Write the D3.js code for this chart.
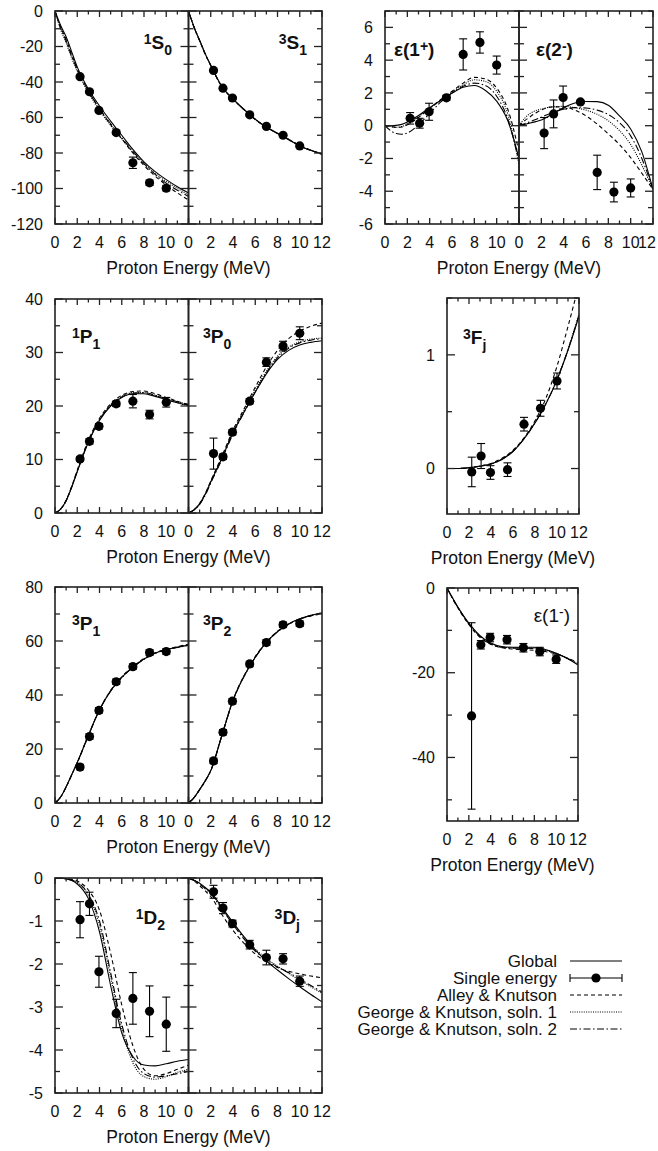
<!DOCTYPE html>
<meta charset="utf-8">
<html>
<head>
<script src="https://d3js.org/d3.v7.min.js"></script>
</head>
<style>
  body { margin: 0; background: #fff; }
  text { font-family: "Liberation Sans", Arial, Helvetica, sans-serif; fill: #111; }
</style>
<body>
<div id="chart"></div>
<script>

// proton energies of the single-energy analyses (MeV)
var energies = [2.25, 3.1, 3.95, 5.5, 7.0, 8.5, 10.0];
var curveE = [0, 0.5, 1, 1.5, 2, 3, 4, 5, 6, 7, 8, 9, 10, 11, 12];

var legendNames = ["Global", "Single energy", "Alley & Knutson", "George & Knutson, soln. 1", "George & Knutson, soln. 2"];

// --- single energy phase shifts (deg) and errors ---
var pts1S0 = [-37, -45.5, -56, -68.5, -85.5, -96.8, -99.8];
var err1S0 = [0.8, 0.8, 0.8, 0.8, 3.2, 1.5, 1.5];
var pts3S1 = [-33.5, -43.5, -49, -58.5, -65, -70, -76];
var err3S1 = [0.6, 0.6, 0.6, 0.6, 0.6, 0.6, 0.6];
var ptsE1p = [0.45, 0.15, 0.85, 1.7, 4.35, 5.08, 3.7];
var errE1p = [0.35, 0.3, 0.52, 0.15, 0.95, 0.65, 0.55];
var ptsE2m = [-0.45, 0.72, 1.72, 1.45, -2.85, -4.05, -3.8];
var errE2m = [0.95, 0.85, 0.7, 0.1, 1.05, 0.6, 0.55];
var pts1P1 = [10.1, 13.4, 16.2, 20.4, 20.9, 18.4, 20.7];
var err1P1 = [0.4, 0.5, 0.5, 0.5, 1.25, 0.8, 0.9];
var pts3P0 = [11.1, 10.5, 15.1, 20.9, 28.2, 31.2, 33.6];
var err3P0 = [2.9, 0.5, 0.5, 0.5, 0.8, 0.9, 1.2];
var pts3Fj = [-0.03, 0.11, -0.035, -0.01, 0.39, 0.53, 0.77];
var err3Fj = [0.13, 0.11, 0.06, 0.06, 0.06, 0.07, 0.07];
var pts3P1 = [13.3, 24.6, 34.3, 44.9, 50.5, 55.7, 56.1];
var err3P1 = [1, 1, 1, 1, 1, 1, 1];
var pts3P2 = [15.6, 26.2, 37.7, 51.5, 59.4, 66.0, 66.4];
var err3P2 = [1, 1, 1, 1, 1, 1, 1];
var ptsE1m = [-30.2, -13.4, -11.7, -12.2, -14.1, -15.0, -16.8];
var errE1m = [22, 1, 1, 1, 1, 1, 1];
var pts1D2 = [-0.97, -0.6, -2.18, -3.15, -2.8, -3.1, -3.4];
var err1D2 = [0.42, 0.27, 0.36, 0.33, 0.6, 0.59, 0.63];
var pts3Dj = [-0.32, -0.7, -1.06, -1.55, -1.85, -1.88, -2.4];
var err3Dj = [0.15, 0.13, 0.08, 0.1, 0.17, 0.12, 0.12];

// --- model curves: global, Alley & Knutson, G&K soln 1, G&K soln 2 ---
var glob1S0 = [0, -8, -14.5, -23, -31.5, -44, -53.5, -62, -70, -78, -85, -90.5, -95, -99, -102.5];
var alley1S0 = [0, -9, -16, -24.5, -32.5, -45, -55, -64, -72, -80, -87, -93, -98, -102.5, -106.5];
var gk1_1S0 = [0, -10.5, -18, -26.5, -34, -46, -56, -64.5, -72, -79.5, -86, -91.5, -96, -100, -103.5];
var gk2_1S0 = [0, -9.5, -17, -25.5, -33, -45, -55, -63.5, -71.5, -79, -86, -92, -97, -101, -104.5];

var glob3S1 = [0, -9, -16.5, -24, -30.5, -42.5, -49.5, -55.5, -61, -65.5, -69, -72.5, -76, -78.5, -80.5];
var alley3S1 = [0, -9.3, -16.8, -24.3, -30.8, -42.7, -49.7, -55.7, -61.1, -65.5, -68.9, -72.3, -75.8, -78.5, -80.8];
var gk1_3S1 = [0, -9.1, -16.6, -24.1, -30.6, -42.6, -49.6, -55.6, -61, -65.5, -68.9, -72.4, -75.9, -78.6, -80.6];
var gk2_3S1 = [0, -9.2, -16.7, -24.2, -30.7, -42.6, -49.6, -55.6, -61, -65.4, -68.8, -72.3, -75.8, -78.4, -80.4];

var globE1p = [0, 0, 0.02, 0.08, 0.22, 0.62, 1.1, 1.55, 1.98, 2.35, 2.45, 2.15, 1.5, 0.3, -2.0];
var alleyE1p = [0, -0.05, -0.1, -0.08, 0.05, 0.5, 1.05, 1.6, 2.1, 2.6, 2.95, 2.85, 2.3, 1.0, -1.6];
var gk1_E1p = [0, -0.05, -0.1, -0.05, 0.1, 0.55, 1.05, 1.55, 2.05, 2.5, 2.8, 2.7, 2.1, 0.7, -2.4];
var gk2_E1p = [0, -0.3, -0.48, -0.52, -0.45, 0.05, 0.75, 1.45, 2.0, 2.4, 2.6, 2.45, 1.8, 0.4, -2.2];

var globE2m = [0, 0.08, 0.16, 0.25, 0.35, 0.72, 1.1, 1.38, 1.48, 1.47, 1.25, 0.6, -0.2, -1.6, -3.9];
var alleyE2m = [0, 0.3, 0.55, 0.78, 0.95, 1.15, 1.15, 0.95, 0.6, 0.1, -0.5, -1.15, -1.95, -2.9, -3.9];
var gk1_E2m = [0, 0.45, 0.75, 0.92, 1.02, 1.15, 1.18, 1.1, 0.95, 0.7, 0.3, -0.3, -1.15, -2.4, -3.9];
var gk2_E2m = [0, 0.12, 0.25, 0.38, 0.52, 0.8, 1.0, 1.1, 1.08, 0.95, 0.68, 0.18, -0.62, -2.0, -3.9];

var glob1P1 = [0, 0.7, 2.3, 4.8, 7.7, 13.2, 17.3, 20.0, 21.6, 22.3, 22.3, 21.8, 21.2, 20.6, 20.1];
var alley1P1 = [0, 0.75, 2.4, 5.0, 8.0, 13.6, 17.7, 20.4, 22.0, 22.7, 22.8, 22.3, 21.6, 20.9, 20.2];
var gk1_1P1 = [0, 0.7, 2.35, 4.9, 7.85, 13.4, 17.5, 20.2, 21.8, 22.5, 22.5, 22.0, 21.3, 20.6, 20.0];
var gk2_1P1 = [0, 0.7, 2.3, 4.85, 7.8, 13.3, 17.4, 20.1, 21.7, 22.4, 22.5, 22.0, 21.4, 20.8, 20.3];

var glob3P0 = [0, 0.6, 1.7, 3.5, 5.8, 10.2, 15.0, 18.9, 22.6, 26.0, 28.7, 30.4, 31.4, 31.9, 32.2];
var alley3P0 = [0, 0.6, 1.8, 3.6, 6.0, 10.6, 15.5, 19.5, 23.5, 27.3, 30.4, 32.6, 34.0, 34.9, 35.5];
var gk1_3P0 = [0, 0.6, 1.7, 3.5, 5.9, 10.4, 15.2, 19.2, 23.0, 26.5, 29.3, 31.0, 32.0, 32.5, 32.7];
var gk2_3P0 = [0, 0.55, 1.6, 3.3, 5.6, 10.0, 14.8, 18.8, 22.6, 26.2, 29.0, 30.8, 31.8, 32.3, 32.6];

var glob3Fj = [0, 0, 0, 0.003, 0.007, 0.02, 0.04, 0.08, 0.15, 0.26, 0.4, 0.57, 0.78, 1.04, 1.34];
var alley3Fj = [0, 0, 0, 0.003, 0.008, 0.022, 0.045, 0.09, 0.16, 0.27, 0.42, 0.62, 0.9, 1.25, 1.62];
var gk1_3Fj = [0, 0, 0, 0.003, 0.007, 0.021, 0.042, 0.085, 0.155, 0.265, 0.405, 0.575, 0.785, 1.05, 1.36];
var gk2_3Fj = [0, 0, 0, 0.003, 0.007, 0.02, 0.04, 0.082, 0.152, 0.262, 0.402, 0.572, 0.782, 1.045, 1.35];

var glob3P1 = [0, 2.2, 6, 10.5, 15, 25, 34.5, 41.5, 46.5, 50.3, 53.3, 55.5, 56.8, 57.7, 58.5];
var alley3P1 = [0, 2.2, 6, 10.4, 14.9, 25, 34.6, 41.7, 46.7, 50.5, 53.5, 55.6, 56.9, 57.9, 58.8];
var gk1_3P1 = [0, 2.2, 6, 10.5, 15, 25.1, 34.6, 41.6, 46.6, 50.4, 53.4, 55.5, 56.8, 57.8, 58.6];
var gk2_3P1 = [0, 2.1, 5.9, 10.4, 14.9, 24.9, 34.4, 41.4, 46.4, 50.2, 53.2, 55.4, 56.7, 57.6, 58.4];

var glob3P2 = [0, 2, 5, 8.2, 12, 25, 38, 47, 54, 59.5, 63.5, 66.3, 68.2, 69.5, 70.5];
var alley3P2 = [0, 2, 5, 8.2, 12, 25.2, 38.2, 47.2, 54.2, 59.6, 63.6, 66.3, 68.1, 69.3, 70.1];
var gk1_3P2 = [0, 2, 5, 8.2, 12, 25, 38, 47, 54, 59.5, 63.5, 66.3, 68.2, 69.5, 70.4];
var gk2_3P2 = [0, 1.9, 4.9, 8.1, 11.9, 24.9, 37.9, 46.9, 53.9, 59.4, 63.4, 66.2, 68.1, 69.4, 70.3];

var globE1m = [0, -2.3, -4.5, -6.5, -8.3, -11.2, -13.0, -13.8, -14.0, -14.0, -14.0, -14.5, -15.4, -16.6, -18.2];
var alleyE1m = [0, -2.5, -4.7, -6.8, -8.6, -11.6, -13.3, -14.1, -14.4, -14.6, -14.7, -15.0, -15.6, -16.5, -17.6];
var gk1_E1m = [0, -2.4, -4.6, -6.6, -8.4, -11.3, -13.1, -13.9, -14.1, -14.1, -14.2, -14.6, -15.4, -16.6, -18.0];
var gk2_E1m = [0, -2.4, -4.6, -6.6, -8.5, -11.4, -13.2, -14.0, -14.2, -14.2, -14.3, -14.7, -15.5, -16.6, -17.9];

var glob1D2 = [0, 0, -0.02, -0.06, -0.14, -0.48, -1.25, -2.5, -3.6, -4.15, -4.35, -4.37, -4.32, -4.26, -4.22];
var alley1D2 = [0, 0, -0.01, -0.03, -0.07, -0.28, -0.75, -1.75, -2.95, -3.9, -4.45, -4.6, -4.55, -4.45, -4.35];
var gk1_1D2 = [0, 0, -0.02, -0.05, -0.11, -0.4, -1.1, -2.3, -3.5, -4.3, -4.62, -4.68, -4.62, -4.52, -4.45];
var gk2_1D2 = [0, 0, -0.02, -0.05, -0.1, -0.38, -1.0, -2.2, -3.4, -4.2, -4.55, -4.63, -4.6, -4.55, -4.5];

var glob3Dj = [0, -0.05, -0.12, -0.22, -0.33, -0.68, -1.03, -1.37, -1.67, -1.93, -2.14, -2.34, -2.53, -2.71, -2.88];
var alley3Dj = [0, -0.07, -0.18, -0.3, -0.43, -0.85, -1.22, -1.52, -1.77, -1.95, -2.08, -2.17, -2.23, -2.28, -2.32];
var gk1_3Dj = [0, -0.05, -0.13, -0.23, -0.35, -0.7, -1.05, -1.38, -1.65, -1.87, -2.05, -2.22, -2.38, -2.53, -2.68];
var gk2_3Dj = [0, -0.06, -0.14, -0.25, -0.37, -0.72, -1.08, -1.42, -1.7, -1.9, -2.07, -2.2, -2.35, -2.5, -2.65];

// line styles: global, Alley & Knutson, G&K 1, G&K 2
var dashes = [null, "4,3", "1,1.3", "7,2.5,1.5,2.5"];

// panel layout (pixel boxes) built around the arrays above
// groupLeft marks the panel that carries the "Proton Energy" title for its group
var panels = [
  {x: [55, 188.5], y: [11, 224], dom: [-120, 0], major: 20, minor: 10, yLabels: true, xLast: 10,
   pts: pts1S0, err: err1S0, curves: [glob1S0, alley1S0, gk1_1S0, gk2_1S0],
   label: [["1", "sup"], ["S"], ["0", "sub"]], lx: 172, ly: 49, anchor: "end", bold: true},
  {x: [188.5, 322], y: [11, 224], dom: [-120, 0], major: 20, minor: 10, yLabels: false, xLast: 12,
   pts: pts3S1, err: err3S1, curves: [glob3S1, alley3S1, gk1_3S1, gk2_3S1], groupLeft: 55,
   label: [["3", "sup"], ["S"], ["1", "sub"]], lx: 307, ly: 49, anchor: "end", bold: true},
  {x: [385, 519], y: [11, 224], dom: [-6, 7], major: 2, minor: 1, yLabels: true, xLast: 10,
   pts: ptsE1p, err: errE1p, curves: [globE1p, alleyE1p, gk1_E1p, gk2_E1p],
   label: [["ε(1"], ["+", "sup"], [")"]], lx: 394, ly: 56, anchor: "start", bold: true},
  {x: [519, 653], y: [11, 224], dom: [-6, 7], major: 2, minor: 1, yLabels: false, xLast: 12,
   pts: ptsE2m, err: errE2m, curves: [globE2m, alleyE2m, gk1_E2m, gk2_E2m], groupLeft: 385,
   label: [["ε(2"], ["-", "sup"], [")"]], lx: 536, ly: 56, anchor: "start", bold: true},
  {x: [55, 188.5], y: [299, 513], dom: [0, 40], major: 10, minor: 5, yLabels: true, xLast: 10,
   pts: pts1P1, err: err1P1, curves: [glob1P1, alley1P1, gk1_1P1, gk2_1P1],
   label: [["1", "sup"], ["P"], ["1", "sub"]], lx: 72, ly: 343, anchor: "start", bold: true},
  {x: [188.5, 322], y: [299, 513], dom: [0, 40], major: 10, minor: 5, yLabels: false, xLast: 12,
   pts: pts3P0, err: err3P0, curves: [glob3P0, alley3P0, gk1_3P0, gk2_3P0], groupLeft: 55,
   label: [["3", "sup"], ["P"], ["0", "sub"]], lx: 203, ly: 343, anchor: "start", bold: true},
  {x: [447, 579], y: [298, 514], dom: [-0.4, 1.5], major: 1, minor: 0.5, yLabels: true, xLast: 12,
   pts: pts3Fj, err: err3Fj, curves: [glob3Fj, alley3Fj, gk1_3Fj, gk2_3Fj], groupLeft: 447,
   label: [["3", "sup"], ["F"], ["j", "sub"]], lx: 463, ly: 344, anchor: "start", bold: true},
  {x: [55, 188.5], y: [587, 803], dom: [0, 80], major: 20, minor: 10, yLabels: true, xLast: 10,
   pts: pts3P1, err: err3P1, curves: [glob3P1, alley3P1, gk1_3P1, gk2_3P1],
   label: [["3", "sup"], ["P"], ["1", "sub"]], lx: 72, ly: 630, anchor: "start", bold: true},
  {x: [188.5, 322], y: [587, 803], dom: [0, 80], major: 20, minor: 10, yLabels: false, xLast: 12,
   pts: pts3P2, err: err3P2, curves: [glob3P2, alley3P2, gk1_3P2, gk2_3P2], groupLeft: 55,
   label: [["3", "sup"], ["P"], ["2", "sub"]], lx: 203, ly: 630, anchor: "start", bold: true},
  {x: [447, 578], y: [588, 821], dom: [-55, 0], major: 20, minor: 10, yLabels: true, xLast: 12,
   pts: ptsE1m, err: errE1m, curves: [globE1m, alleyE1m, gk1_E1m, gk2_E1m], groupLeft: 447,
   label: [["ε(1"], ["-", "sup"], [")"]], lx: 570, ly: 622, anchor: "end", bold: false},
  {x: [55, 188.5], y: [878, 1093], dom: [-5, 0], major: 1, minor: 0.5, yLabels: true, xLast: 10,
   pts: pts1D2, err: err1D2, curves: [glob1D2, alley1D2, gk1_1D2, gk2_1D2],
   label: [["1", "sup"], ["D"], ["2", "sub"]], lx: 165, ly: 924, anchor: "end", bold: true},
  {x: [188.5, 322], y: [878, 1093], dom: [-5, 0], major: 1, minor: 0.5, yLabels: false, xLast: 12,
   pts: pts3Dj, err: err3Dj, curves: [glob3Dj, alley3Dj, gk1_3Dj, gk2_3Dj], groupLeft: 55,
   label: [["3", "sup"], ["D"], ["j", "sub"]], lx: 300, ly: 924, anchor: "end", bold: true}
];

var svg = d3.select("#chart").append("svg")
    .attr("width", 658)
    .attr("height", 1151);

var defs = svg.append("defs");

function drawPanel(p, i) {
    var x = d3.scaleLinear().domain([0, 12]).range(p.x);
    var y = d3.scaleLinear().domain(p.dom).range([p.y[1], p.y[0]]);
    var g = svg.append("g");

    defs.append("clipPath").attr("id", "clip" + i)
        .append("rect")
        .attr("x", p.x[0]).attr("y", p.y[0])
        .attr("width", p.x[1] - p.x[0]).attr("height", p.y[1] - p.y[0]);

    // model curves
    var line = d3.line()
        .x(function(d, j) { return x(curveE[j]); })
        .y(function(d) { return y(d); })
        .curve(d3.curveMonotoneX);

    g.append("g")
        .attr("clip-path", "url(#clip" + i + ")")
        .selectAll("path")
        .data(p.curves)
        .join("path")
        .attr("d", line)
        .attr("fill", "none")
        .attr("stroke", "#000")
        .attr("stroke-width", 1.1)
        .attr("stroke-dasharray", function(d, j) { return dashes[j]; });

    // ticks, all pointing inwards
    var ticks = g.append("g").attr("stroke", "#222").attr("stroke-width", 1.3);
    d3.range(0, 13).forEach(function(e) {
        var len = e % 2 === 0 ? 6 : 3.5;
        ticks.append("line").attr("x1", x(e)).attr("x2", x(e)).attr("y1", p.y[1]).attr("y2", p.y[1] - len);
        ticks.append("line").attr("x1", x(e)).attr("x2", x(e)).attr("y1", p.y[0]).attr("y2", p.y[0] + len);
    });
    var k0 = Math.ceil(p.dom[0] / p.minor - 1e-9), k1 = Math.floor(p.dom[1] / p.minor + 1e-9);
    var yTicks = d3.range(k0, k1 + 1).map(function(k) { return +(k * p.minor).toFixed(6); });
    yTicks.forEach(function(v) {
        var isMajor = Math.abs(v / p.major - Math.round(v / p.major)) < 1e-6;
        var len = isMajor ? 8 : 5;
        ticks.append("line").attr("x1", p.x[0]).attr("x2", p.x[0] + len).attr("y1", y(v)).attr("y2", y(v));
        ticks.append("line").attr("x1", p.x[1]).attr("x2", p.x[1] - len).attr("y1", y(v)).attr("y2", y(v));
        if (isMajor && p.yLabels) {
            svg.append("text")
                .attr("x", p.x[0] - 12)
                .attr("y", y(v))
                .attr("dy", "0.36em")
                .attr("text-anchor", "end")
                .attr("font-size", 16)
                .text(String(v));
        }
    });

    // frame
    g.append("rect")
        .attr("x", p.x[0]).attr("y", p.y[0])
        .attr("width", p.x[1] - p.x[0]).attr("height", p.y[1] - p.y[0])
        .attr("fill", "none")
        .attr("stroke", "#222")
        .attr("stroke-width", 1.6);

    // x tick labels (kept inside the page at the right edge)
    svg.append("g")
        .selectAll("text")
        .data(d3.range(0, p.xLast + 1, 2))
        .join("text")
        .attr("x", function(d) { return Math.min(x(d), 647); })
        .attr("y", p.y[1] + 24)
        .attr("text-anchor", "middle")
        .attr("font-size", 16)
        .text(function(d) { return d; });

    if (p.groupLeft !== undefined) {
        svg.append("text")
            .attr("x", (p.groupLeft + p.x[1]) / 2)
            .attr("y", p.y[1] + 50)
            .attr("text-anchor", "middle")
            .attr("font-size", 17.5)
            .text("Proton Energy (MeV)");
    }

    // single energy points with error bars
    var pg = g.append("g").attr("stroke", "#000").attr("stroke-width", 1.1);
    energies.forEach(function(e, j) {
        var cx = x(e), lo = y(p.pts[j] - p.err[j]), hi = y(p.pts[j] + p.err[j]);
        pg.append("line").attr("x1", cx).attr("x2", cx).attr("y1", lo).attr("y2", hi);
        pg.append("line").attr("x1", cx - 4).attr("x2", cx + 4).attr("y1", lo).attr("y2", lo);
        pg.append("line").attr("x1", cx - 4).attr("x2", cx + 4).attr("y1", hi).attr("y2", hi);
    });
    g.append("g")
        .selectAll("circle")
        .data(p.pts)
        .join("circle")
        .attr("cx", function(d, j) { return x(energies[j]); })
        .attr("cy", function(d) { return y(d); })
        .attr("r", 4.6)
        .attr("fill", "#000");

    // panel label with super/subscripts
    var t = svg.append("text")
        .attr("x", p.lx).attr("y", p.ly)
        .attr("text-anchor", p.anchor)
        .attr("font-weight", p.bold ? "bold" : "normal");
    var shift = 0;
    p.label.forEach(function(part) {
        var target = part[1] === "sup" ? -5 : part[1] === "sub" ? 6 : 0;
        t.append("tspan")
            .attr("dy", target - shift)
            .attr("font-size", part[1] ? 14 : 19)
            .text(part[0]);
        shift = target;
    });
}

panels.forEach(drawPanel);

// legend
var legendY = [967, 984, 1001, 1018, 1035];
var legend = svg.append("g");
legendNames.forEach(function(name, i) {
    var ly = legendY[i] - 6;
    legend.append("text")
        .attr("x", 557).attr("y", legendY[i])
        .attr("text-anchor", "end")
        .attr("font-size", 17)
        .text(name);
    if (i === 1) {
        legend.append("line").attr("x1", 570).attr("x2", 622).attr("y1", ly).attr("y2", ly)
            .attr("stroke", "#000").attr("stroke-width", 1.1);
        [570, 622].forEach(function(cx) {
            legend.append("line").attr("x1", cx).attr("x2", cx).attr("y1", ly - 4).attr("y2", ly + 4)
                .attr("stroke", "#000").attr("stroke-width", 1.1);
        });
        legend.append("circle").attr("cx", 596).attr("cy", ly).attr("r", 4.6).attr("fill", "#000");
    } else {
        var style = i === 0 ? 0 : i - 1;
        legend.append("line").attr("x1", 570).attr("x2", 622).attr("y1", ly).attr("y2", ly)
            .attr("stroke", "#000").attr("stroke-width", 1.1)
            .attr("stroke-dasharray", dashes[style]);
    }
});

</script>
</body>
</html>
